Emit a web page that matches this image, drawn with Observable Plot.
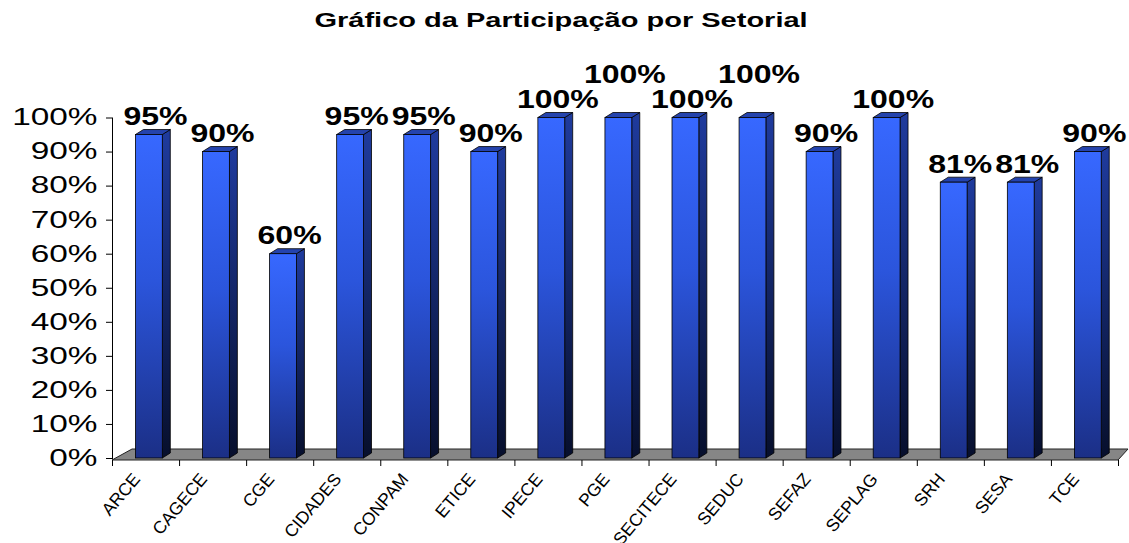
<!DOCTYPE html>
<html>
<head>
<meta charset="utf-8">
<script src="https://cdn.jsdelivr.net/npm/d3@7"></script>
<script src="https://cdn.jsdelivr.net/npm/@observablehq/plot@0.6"></script>
<style>
  body { margin: 0; background: #fff; font-family: "Liberation Sans", Arial, sans-serif; }
  #title { width: 1129px; height: 56px; box-sizing: border-box; padding-top: 10px; text-align: center; }
  #title span { display: inline-block; font-weight: bold; font-size: 20px; line-height: 20px;
                transform: scaleX(1.45); transform-origin: center; margin-right: 6px; color: #000; }
</style>
</head>
<body>
<div id="title"><span>Gráfico da Participação por Setorial</span></div>
<div id="chart"></div>
<script>
// Participation (%) per sector
const sectors = ["ARCE", "CAGECE", "CGE", "CIDADES", "CONPAM", "ETICE", "IPECE", "PGE",
                 "SECITECE", "SEDUC", "SEFAZ", "SEPLAG", "SRH", "SESA", "TCE"];
const participation = [95, 90, 60, 95, 95, 90, 100, 100, 100, 100, 90, 100, 81, 81, 90];
const yTicks = [0, 10, 20, 30, 40, 50, 60, 70, 80, 90, 100];

const rows = sectors.map((sector, i) => ({sector, value: participation[i], i}));

const FONT = '"Liberation Sans", Arial, sans-serif';
// column geometry: front face inside each slot, plus a small oblique depth in px
const FRONT_L = 0.35, FRONT_R = 0.75, DX = 8, DY = 5;
// labels nudged upward so neighbouring 100% labels do not collide
const lifted = new Set(["PGE", "SEDUC"]);

function gradients() {
  const defs = d3.create("svg:defs");
  const lg = (id, stops) => {
    const g = defs.append("linearGradient").attr("id", id)
      .attr("x1", 0).attr("y1", 0).attr("x2", 0).attr("y2", 1);
    for (const [o, c] of stops) g.append("stop").attr("offset", o).attr("stop-color", c);
  };
  lg("face-front", [[0, "#3768ff"], [0.45, "#2b55dc"], [1, "#1b2f86"]]);
  lg("face-side", [[0, "#1f3b9e"], [1, "#070f2c"]]);
  return defs.node();
}

function floor(index, {x, y}) {
  const x0 = x(0), x1 = x(sectors.length), y0 = y(0);
  return d3.create("svg:path")
    .attr("d", `M${x0},${y0 + 2}L${x1},${y0 + 2}L${x1 + 10},${y0 - 9}L${x0 + 20},${y0 - 9}Z`)
    .attr("fill", "#868686").attr("stroke", "#222").attr("stroke-width", 1)
    .node();
}

function depthFaces(index, {x, y}) {
  const g = d3.create("svg:g").attr("stroke", "#000").attr("stroke-width", 0.8)
    .attr("stroke-linejoin", "round");
  for (const d of rows) {
    const xl = x(d.i + FRONT_L), xr = x(d.i + FRONT_R), yt = y(d.value), yb = y(0);
    g.append("path").attr("fill", "url(#face-side)")
      .attr("d", `M${xr},${yt}L${xr + DX},${yt - DY}L${xr + DX},${yb - DY}L${xr},${yb}Z`);
    g.append("path").attr("fill", "#2443ad")
      .attr("d", `M${xl},${yt}L${xl + DX},${yt - DY}L${xr + DX},${yt - DY}L${xr},${yt}Z`);
  }
  return g.node();
}

const svg = Plot.plot({
  width: 1129,
  height: 487,
  marginTop: 61.5,
  marginBottom: 85,
  marginLeft: 112,
  marginRight: 11,
  style: {fontFamily: FONT, fontSize: "23px", color: "#000", background: "#fff"},
  x: {domain: [0, sectors.length], axis: null},
  y: {domain: [0, 100], ticks: yTicks, tickFormat: d => d + "%", tickSize: 6, tickPadding: 9,
      line: true, label: null},
  marks: [
    gradients,
    floor,
    Plot.ruleX(d3.range(sectors.length + 1), {y1: () => 0, y2: () => 0, insetBottom: -6, dy: 2,
      stroke: "#000"}),
    depthFaces,
    Plot.rectY(rows, {x1: d => d.i + FRONT_L, x2: d => d.i + FRONT_R, y: "value",
      fill: "url(#face-front)", stroke: "#000", strokeWidth: 0.8}),
    Plot.text(rows.filter(d => !lifted.has(d.sector)), {x: d => d.i + 0.64, y: "value",
      text: d => d.value + "%", dy: -18, fontSize: 25, fontWeight: "bold", fill: "#000"}),
    Plot.text(rows.filter(d => lifted.has(d.sector)), {x: d => d.i + 0.64, y: "value",
      text: d => d.value + "%", dy: -43, fontSize: 25, fontWeight: "bold", fill: "#000"}),
    Plot.text(rows, {x: d => d.i + 0.5, frameAnchor: "bottom", text: "sector", rotate: -50,
      textAnchor: "end", dx: -5, dy: 21, fontSize: 17.5, fill: "#000"})
  ]
});

document.getElementById("chart").append(svg);

// axis labels use the chart's base size; the Arial-like face is widened a little
const own = new Set(["25", "17.5"]);
for (const t of svg.querySelectorAll("text")) {
  const host = t.closest("[font-size]");
  const size = host ? host.getAttribute("font-size") : null;
  if (!own.has(size)) { t.style.fontSize = "23px"; t.style.fontFamily = FONT; t.style.fill = "#000"; }
}
for (const t of svg.querySelectorAll("text")) {
  const cs = getComputedStyle(t);
  const fs = parseFloat(cs.fontSize);
  const bold = cs.fontWeight === "bold" || +cs.fontWeight >= 600;
  const k = bold ? 1.28 : fs > 20 ? 1.45 : 1;
  if (k !== 1) {
    const len = t.getComputedTextLength();
    t.setAttribute("textLength", (len * k).toFixed(1));
    t.setAttribute("lengthAdjust", "spacingAndGlyphs");
  }
}
</script>
</body>
</html>
